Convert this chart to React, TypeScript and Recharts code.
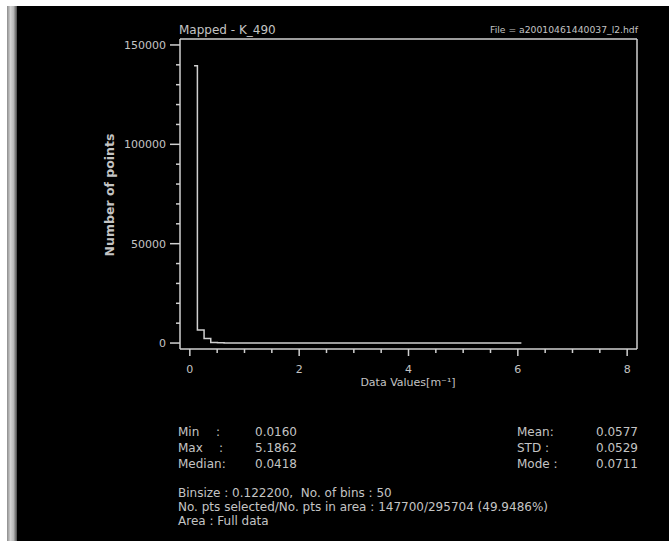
import React from 'react';
import { ComposedChart, Line, XAxis, YAxis } from 'recharts';

// histogram of K_490 values (50 bins, binsize 0.1222 starting at min 0.016)
const BIN_MIN = 0.016;
const BIN_SIZE = 0.1222;
const COUNTS = [
  139500, 6500, 2300, 240, 90, 40, 20, 12, 8, 6,
  4, 3, 3, 2, 2, 1, 1, 1, 1, 1,
  0, 1, 0, 0, 1, 0, 0, 0, 1, 0,
  0, 0, 0, 0, 0, 0, 0, 0, 0, 0,
  0, 0, 1, 0, 0, 0, 0, 0, 0, 0,
];

const X_TICKS = [0, 0.5, 1, 1.5, 2, 2.5, 3, 3.5, 4, 4.5, 5, 5.5, 6, 6.5, 7, 7.5, 8];
const X_LABELS = [0, 2, 4, 6, 8];
const Y_TICKS = [0, 10000, 20000, 30000, 40000, 50000, 60000, 70000, 80000, 90000, 100000, 110000, 120000, 130000, 140000, 150000];
const Y_LABELS = [0, 50000, 100000, 150000];

const STATS_LEFT = [
  { label: 'Min', colon: ':', value: '0.0160' },
  { label: 'Max', colon: ':', value: '5.1862' },
  { label: 'Median:', colon: '', value: '0.0418' },
];
const STATS_RIGHT = [
  { label: 'Mean:', value: '0.0577' },
  { label: 'STD :', value: '0.0529' },
  { label: 'Mode :', value: '0.0711' },
];
const INFO_LINES = [
  'Binsize : 0.122200,  No. of bins : 50',
  'No. pts selected/No. pts in area : 147700/295704 (49.9486%)',
  'Area : Full data',
];

const data = COUNTS.map((c, i) => ({ x: BIN_MIN + (i + 0.5) * BIN_SIZE, count: c }));

const FG = '#d0d0d0';
const TXT = '#c4c4c4';
const FONT = '"DejaVu Sans", sans-serif';

const XTick = (props: any) => {
  const { x, y, payload } = props;
  const major = X_LABELS.includes(payload.value);
  return (
    <g>
      <line x1={x} x2={x} y1={y} y2={y + (major ? 7 : 4)} stroke={FG} strokeWidth={1.5} />
      {major && (
        <text x={x} y={y + 24} textAnchor="middle" fill={TXT} fontSize={11} fontFamily={FONT}>
          {payload.value}
        </text>
      )}
    </g>
  );
};

const YTick = (props: any) => {
  const { x, y, payload } = props;
  const major = Y_LABELS.includes(payload.value);
  return (
    <g>
      <line x1={x - (major ? 10 : 4)} x2={x} y1={y} y2={y} stroke={FG} strokeWidth={1.5} />
      {major && (
        <text x={x - 14} y={y + 4} textAnchor="end" fill={TXT} fontSize={11} fontFamily={FONT}>
          {payload.value}
        </text>
      )}
    </g>
  );
};

const App = () => {
  return (
    <div style={{ position: 'absolute', left: 0, top: 0, width: 669, height: 541, background: '#ffffff' }}>
      <div style={{ position: 'absolute', left: 17, top: 6, width: 652, height: 535, background: '#000000' }} />
      <div
        style={{
          position: 'absolute', left: 7, top: 6, width: 10, height: 535,
          background: 'linear-gradient(to right, #8c8c8c, #d2d2d2 35%, #b8b8b8 65%, #4a4a4a)',
        }}
      />
      <div style={{ position: 'absolute', left: 0, top: 0 }}>
        <ComposedChart width={669} height={541} data={data} margin={{ top: 38, right: 31, bottom: 191, left: 179 }}>
          <XAxis
            xAxisId="b" dataKey="x" type="number" domain={[-0.18, 8.18]} ticks={X_TICKS} interval={0}
            allowDataOverflow height={1} tickSize={0} tickMargin={0} tickLine={false}
            axisLine={{ stroke: FG, strokeWidth: 1.5 }} tick={<XTick />}
          />
          <XAxis
            xAxisId="t" orientation="top" type="number" domain={[-0.18, 8.18]} height={1}
            tick={false} tickLine={false} axisLine={{ stroke: FG, strokeWidth: 1.5 }}
          />
          <YAxis
            yAxisId="l" type="number" domain={[-3000, 153000]} ticks={Y_TICKS} interval={0}
            allowDataOverflow width={1} tickSize={0} tickMargin={0} tickLine={false}
            axisLine={{ stroke: FG, strokeWidth: 1.5 }} tick={<YTick />}
          />
          <YAxis
            yAxisId="r" orientation="right" type="number" domain={[-3000, 153000]} width={1}
            tick={false} tickLine={false} axisLine={{ stroke: FG, strokeWidth: 1.5 }}
          />
          <Line
            xAxisId="b" yAxisId="l" type="step" dataKey="count" stroke={FG} strokeWidth={1.5}
            dot={false} activeDot={false} isAnimationActive={false}
          />
        </ComposedChart>
      </div>
      <svg width={669} height={541} style={{ position: 'absolute', left: 0, top: 0, pointerEvents: 'none' }}>
        <g fontFamily={FONT} fill={TXT}>
          <text x={179} y={34} fontSize={12}>Mapped  -  K_490</text>
          <text x={638} y={33} fontSize={9} textAnchor="end" textLength={148} lengthAdjust="spacingAndGlyphs">
            File = a20010461440037_l2.hdf
          </text>
          <text x={0} y={0} fontSize={12.5} fontWeight="bold" textAnchor="middle" transform="translate(114,195) rotate(-90)">
            Number of points
          </text>
          <text x={408} y={386} fontSize={11} textAnchor="middle">Data Values[m⁻¹]</text>
          {STATS_LEFT.map((s, i) => (
            <g key={s.label} fontSize={12}>
              <text x={178} y={436 + i * 16}>{s.label}</text>
              {s.colon && <text x={216 + i * 3} y={436 + i * 16}>{s.colon}</text>}
              <text x={297} y={436 + i * 16} textAnchor="end">{s.value}</text>
            </g>
          ))}
          {STATS_RIGHT.map((s, i) => (
            <g key={s.label} fontSize={12}>
              <text x={517} y={436 + i * 16}>{s.label}</text>
              <text x={638} y={436 + i * 16} textAnchor="end">{s.value}</text>
            </g>
          ))}
          {INFO_LINES.map((t, i) => (
            <text key={t} x={178} y={497 + i * 14} fontSize={12} style={{ whiteSpace: 'pre' }}>{t}</text>
          ))}
        </g>
      </svg>
    </div>
  );
};

export default App;
